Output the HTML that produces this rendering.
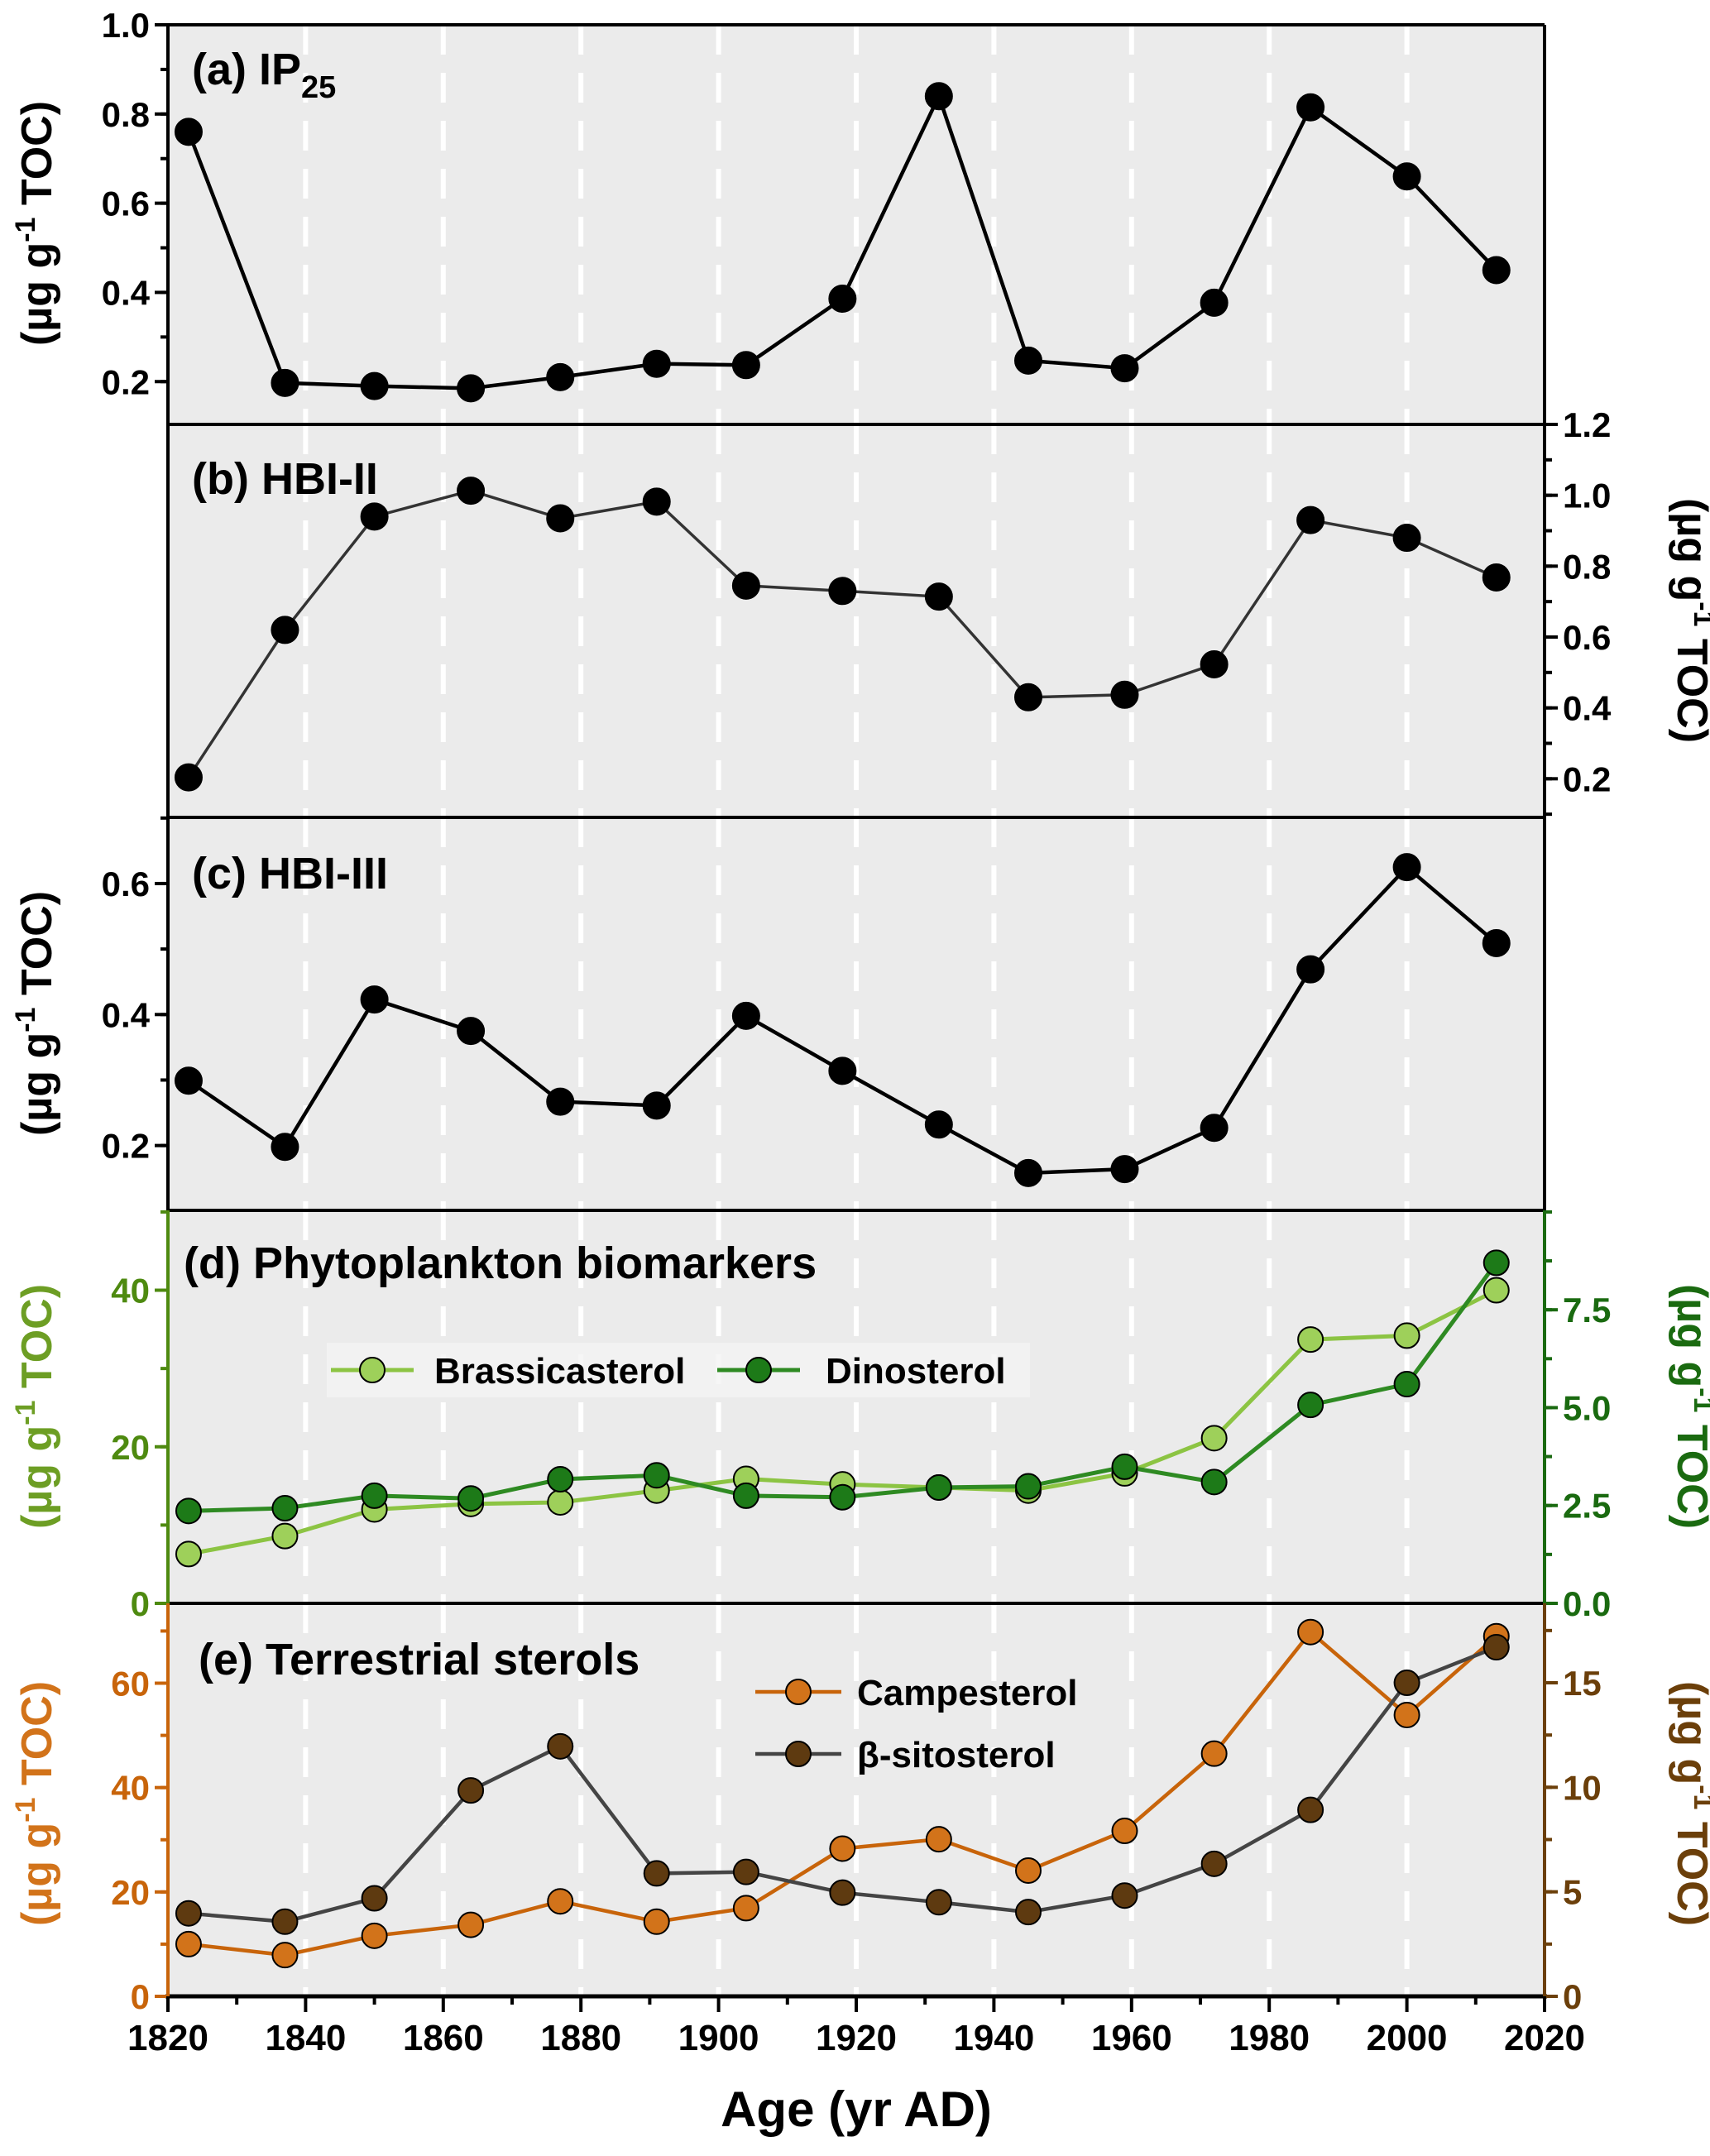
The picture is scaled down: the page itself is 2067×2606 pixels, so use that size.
<!DOCTYPE html>
<html><head><meta charset="utf-8"><style>
html,body{margin:0;padding:0;background:#fff;}
svg{display:block;font-family:"Liberation Sans",Arial,sans-serif;font-weight:bold;}
</style></head><body>
<svg id="chart" width="2067" height="2606" viewBox="0 0 2067 2606" xmlns="http://www.w3.org/2000/svg"></svg>
<script>
const ages = [1823,1837,1850,1864,1877,1891,1904,1918,1932,1945,1959,1972,1986,2000,2013];
const ip25 = [0.76,0.197,0.19,0.185,0.21,0.24,0.237,0.386,0.84,0.247,0.23,0.377,0.815,0.66,0.45];
const hbi2 = [0.204,0.62,0.94,1.013,0.935,0.982,0.745,0.73,0.714,0.43,0.437,0.523,0.93,0.88,0.768];
const hbi3 = [0.299,0.198,0.423,0.375,0.267,0.261,0.398,0.314,0.232,0.158,0.164,0.227,0.469,0.625,0.509];
const brassicasterol = [6.3,8.6,12,12.7,12.9,14.4,15.9,15.2,14.8,14.4,16.6,21.1,33.7,34.2,40];
const dinosterol = [2.36,2.43,2.75,2.68,3.17,3.27,2.75,2.71,2.96,2.99,3.49,3.1,5.07,5.6,8.7];
const campesterol = [10,7.9,11.6,13.7,18.2,14.3,16.9,28.3,30.1,24.1,31.7,46.5,69.8,53.9,69];
const sitosterol = [3.97,3.57,4.69,9.85,11.96,5.88,5.95,4.96,4.5,4.03,4.82,6.34,8.92,15,16.7];
const xTicks = [1820,1840,1860,1880,1900,1920,1940,1960,1980,2000,2020];

const NS="http://www.w3.org/2000/svg";
const svg=document.getElementById('chart');
const L=203,R=1867;
function X(yr){return L+(yr-1820)*(R-L)/200;}
function mk(tag,attrs,parent){const e=document.createElementNS(NS,tag);for(const k in attrs)e.setAttribute(k,attrs[k]);(parent||svg).appendChild(e);return e;}
function txt(s,attrs,parent){const e=mk('text',attrs,parent);e.textContent=s;return e;}
function yScale(top,bot,min,max){return v=>bot-(v-min)/(max-min)*(bot-top);}

const panels=[[30,513],[513,988],[988,1463],[1463,1938],[1938,2413]];
panels.forEach((p,i)=>{
  const bg=mk('rect',{x:L,y:p[0],width:R-L,height:p[1]-p[0],fill:'#ebebeb'});
  
  
  for(let yr=1840;yr<=2000;yr+=20){
    const g=mk('line',{x1:X(yr),x2:X(yr),y1:p[0],y2:p[1],stroke:'#fff','stroke-width':6,'stroke-dasharray':'36,22'});
    
    
  }
});
panels.forEach(p=>{
  mk('line',{x1:L,x2:R,y1:p[0],y2:p[0],stroke:'#000','stroke-width':4});
});
mk('line',{x1:L-3,x2:R+3,y1:2413,y2:2413,stroke:'#000','stroke-width':5});
mk('line',{x1:R,x2:R,y1:30,y2:1463,stroke:'#000','stroke-width':4});
mk('line',{x1:L,x2:L,y1:30,y2:1463,stroke:'#000','stroke-width':4});

function leftAxis(top,bot,min,max,labels,minorStep,color,fmt){
  const y=yScale(top,bot,min,max);
  mk('line',{x1:L,x2:L,y1:top,y2:bot,stroke:color,'stroke-width':4});
  labels.forEach(v=>{
    mk('line',{x1:L-16,x2:L,y1:y(v),y2:y(v),stroke:color,'stroke-width':4});
    const t=txt(fmt(v),{x:L-22,y:y(v)+15,'text-anchor':'end','font-size':42,fill:color});
    
    
  });
  if(minorStep){for(let v=Math.ceil(min/minorStep)*minorStep;v<=max+1e-9;v+=minorStep){
    mk('line',{x1:L-9,x2:L,y1:y(v),y2:y(v),stroke:color,'stroke-width':4});}}
  return y;
}
function rightAxis(top,bot,min,max,labels,minorStep,color,fmt){
  const y=yScale(top,bot,min,max);
  mk('line',{x1:R,x2:R,y1:top,y2:bot,stroke:color,'stroke-width':4});
  labels.forEach(v=>{
    mk('line',{x1:R,x2:R+16,y1:y(v),y2:y(v),stroke:color,'stroke-width':4});
    const t=txt(fmt(v),{x:R+22,y:y(v)+15,'text-anchor':'start','font-size':42,fill:color});
    
    
  });
  if(minorStep){for(let v=Math.ceil(min/minorStep)*minorStep;v<=max+1e-9;v+=minorStep){
    mk('line',{x1:R,x2:R+9,y1:y(v),y2:y(v),stroke:color,'stroke-width':4});}}
  return y;
}
function yTitle(x,cy,color,rot,name){
  const g=mk('g',{transform:`translate(${x},${cy}) rotate(${rot})`});
  
  
  const t=mk('text',{x:0,y:0,'text-anchor':'middle','font-size':52,fill:color},g);
  t.innerHTML='(µg g<tspan dy="-20" font-size="34">-1</tspan><tspan dy="20"> TOC)</tspan>';
}
function series(vals,y,line,fill,lw,r,name){
  const pts=ages.map((a,i)=>[X(a),y(vals[i])]);
  const pl=mk('polyline',{points:pts.map(p=>p.join(',')).join(' '),fill:'none',stroke:line,'stroke-width':lw});
  
  
  pts.forEach(p=>{
    const c=mk('circle',{cx:p[0],cy:p[1],r:r,fill:fill,stroke:'#000','stroke-width':2});
    
    
  });
}
function label(s,x,y,name,sub){
  const t=txt(s,{x:x,y:y,'font-size':54,fill:'#000'});
  
  
  if(sub){const ts=mk('tspan',{dy:16,'font-size':38},t);ts.textContent=sub;}
}
const f1=v=>v.toFixed(1), f0=v=>String(v);

const ya=leftAxis(30,513,0.104,1.0,[0.2,0.4,0.6,0.8,1.0],0.1,'#000',f1);
series(ip25,ya,'#000','#000',4.5,16,'ip25');
label('(a) IP',232,102,'panel-a-title','25');
yTitle(62,270,'#000',-90,'y-axis-title-a');

const yb=rightAxis(513,988,0.091,1.2,[0.2,0.4,0.6,0.8,1.0,1.2],0.1,'#000',f1);
series(hbi2,yb,'#333','#000',3.5,16,'hbi2');
label('(b) HBI-II',232,597,'panel-b-title');
yTitle(2028,750,'#000',90,'y-axis-title-b');

const yc=leftAxis(988,1463,0.101,0.701,[0.2,0.4,0.6],0.1,'#000',f1);
series(hbi3,yc,'#000','#000',4.5,16,'hbi3');
label('(c) HBI-III',232,1074,'panel-c-title');
yTitle(62,1225,'#000',-90,'y-axis-title-c');

const ydl=leftAxis(1463,1938,0,50.2,[0,20,40],10,'#4e8a10',f0);
const ydr=rightAxis(1463,1938,0,10.04,[0,2.5,5,7.5],1.25,'#1a6a10',f1);
series(brassicasterol,ydl,'#8cc443','#9ed05a',5,15,'brassicasterol');
series(dinosterol,ydr,'#2e8a22','#1d7a18',5,15,'dinosterol');
label('(d) Phytoplankton biomarkers',222,1545,'panel-d-title');
yTitle(62,1700,'#6d9e24',-90,'y-axis-title-d-left');
yTitle(2028,1700,'#1a6a10',90,'y-axis-title-d-right');
const lgd=mk('rect',{x:395,y:1623,width:850,height:66,fill:'#f4f4f4','fill-opacity':0.8});


mk('line',{x1:400,x2:500,y1:1656,y2:1656,stroke:'#8cc443','stroke-width':5});
mk('circle',{cx:450,cy:1656,r:15,fill:'#9ed05a',stroke:'#000','stroke-width':2});
let t=txt('Brassicasterol',{x:525,y:1672,'font-size':44});


mk('line',{x1:867,x2:967,y1:1656,y2:1656,stroke:'#2e8a22','stroke-width':5});
mk('circle',{cx:917,cy:1656,r:15,fill:'#1d7a18',stroke:'#000','stroke-width':2});
t=txt('Dinosterol',{x:998,y:1672,'font-size':44});



const yel=leftAxis(1938,2413,0,75.3,[0,20,40,60],10,'#c8640a',f0);
const yer=rightAxis(1938,2413,0,18.8,[0,5,10,15],2.5,'#6b3f0a',f0);
series(campesterol,yel,'#c8640a','#d2731a',4.5,15,'campesterol');
series(sitosterol,yer,'#444','#5e3a10',4.5,15,'sitosterol');
label('(e) Terrestrial sterols',240,2024,'panel-e-title');
yTitle(62,2180,'#d2731a',-90,'y-axis-title-e-left');
yTitle(2028,2180,'#6b3f0a',90,'y-axis-title-e-right');
mk('line',{x1:913,x2:1017,y1:2045,y2:2045,stroke:'#c8640a','stroke-width':4.5});
mk('circle',{cx:965,cy:2045,r:15,fill:'#d2731a',stroke:'#000','stroke-width':2});
t=txt('Campesterol',{x:1036,y:2061,'font-size':44});


mk('line',{x1:913,x2:1017,y1:2120,y2:2120,stroke:'#444','stroke-width':4.5});
mk('circle',{cx:965,cy:2120,r:15,fill:'#5e3a10',stroke:'#000','stroke-width':2});
t=txt('β-sitosterol',{x:1036,y:2136,'font-size':44});



xTicks.forEach(v=>{
  mk('line',{x1:X(v),x2:X(v),y1:2413,y2:2432,stroke:'#000','stroke-width':4});
  const tl=txt(String(v),{x:X(v),y:2478,'text-anchor':'middle','font-size':44});
  
  
});
for(let v=1830;v<2020;v+=20){mk('line',{x1:X(v),x2:X(v),y1:2413,y2:2423,stroke:'#000','stroke-width':4});}
t=txt('Age (yr AD)',{x:X(1920),y:2570,'text-anchor':'middle','font-size':60});


</script>
</body></html>
